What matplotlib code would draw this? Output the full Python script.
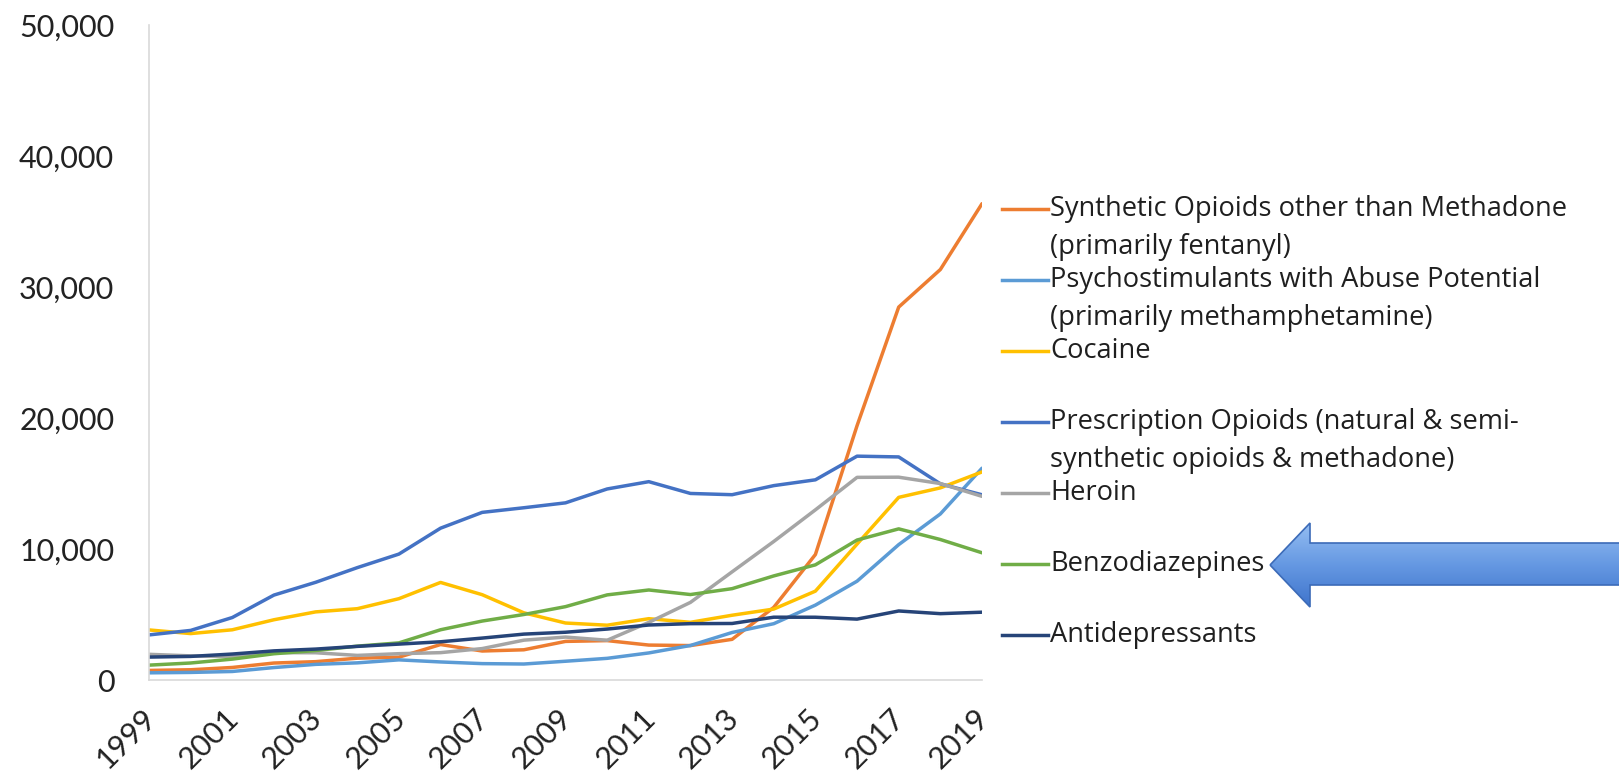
import matplotlib.pyplot as plt
import numpy as np
from matplotlib.lines import Line2D
from matplotlib.patches import Polygon
from matplotlib.ticker import FuncFormatter
from matplotlib.transforms import ScaledTranslation
from matplotlib.colors import LinearSegmentedColormap

plt.rcParams['font.family'] = ['Lato', 'DejaVu Sans']

years = list(range(1999, 2020))

synthetic = [730, 782, 957, 1295, 1400, 1664, 1742, 2707, 2213, 2306, 2946,
             3007, 2666, 2628, 3105, 5544, 9580, 19413, 28466, 31335, 36359]
psycho = [547, 578, 650, 950, 1193, 1309, 1537, 1378, 1250, 1220, 1432,
          1654, 2066, 2635, 3627, 4298, 5716, 7542, 10333, 12676, 16167]
cocaine = [3822, 3544, 3833, 4599, 5199, 5443, 6208, 7448, 6512, 5129, 4350,
           4183, 4681, 4404, 4944, 5415, 6784, 10375, 13942, 14666, 15883]
prescription = [3442, 3785, 4770, 6483, 7456, 8577, 9612, 11589, 12796, 13149, 13523,
                14583, 15140, 14240, 14145, 14838, 15281, 17087, 17029, 14975, 14139]
heroin = [1960, 1842, 1779, 2089, 2080, 1878, 2009, 2088, 2399, 3041, 3278,
          3036, 4397, 5925, 8257, 10574, 12989, 15469, 15482, 14996, 14019]
benzo = [1135, 1298, 1594, 2004, 2248, 2585, 2834, 3835, 4500, 5000, 5600,
         6497, 6872, 6524, 6973, 7945, 8791, 10684, 11537, 10724, 9711]
antidep = [1749, 1801, 1982, 2224, 2360, 2566, 2740, 2918, 3200, 3503, 3646,
           3889, 4198, 4301, 4315, 4794, 4791, 4647, 5269, 5064, 5176]

series = [
    (["Synthetic Opioids other than Methadone", "(primarily fentanyl)"], synthetic, "#ED7D31"),
    (["Psychostimulants with Abuse Potential", "(primarily methamphetamine)"], psycho, "#5B9BD5"),
    (["Cocaine"], cocaine, "#FFC000"),
    (["Prescription Opioids (natural & semi-", "synthetic opioids & methadone)"], prescription, "#4472C4"),
    (["Heroin"], heroin, "#A5A5A5"),
    (["Benzodiazepines"], benzo, "#70AD47"),
    (["Antidepressants"], antidep, "#264478"),
]

W, H = 1619, 779
fig = plt.figure(figsize=(W / 100, H / 100), dpi=100)
ax = fig.add_axes([149 / W, 1 - 680 / H, (982 - 149) / W, (680 - 25) / H])

for labels, vals, col in series:
    ax.plot(years, vals, color=col, lw=2.5, solid_capstyle='round')

ax.set_xlim(1999, 2019)
ax.set_ylim(0, 50000)
ax.set_yticks(range(0, 50001, 10000))
ax.yaxis.set_major_formatter(FuncFormatter(lambda v, p: f"{int(v):,}"))
ax.set_xticks(years[::2])
ax.set_xticklabels([str(y) for y in years[::2]], rotation=45, ha='right', va='top',
                   rotation_mode='anchor')
ax.tick_params(axis='both', length=0, colors='#222222', labelsize=22)
ax.tick_params(axis='y', pad=25)
ax.tick_params(axis='x', pad=17)
shift = ScaledTranslation(-0.08, 0, fig.dpi_scale_trans)
for lab in ax.get_xticklabels():
    lab.set_transform(lab.get_transform() + shift)
for s in ['top', 'right']:
    ax.spines[s].set_visible(False)
for s in ['left', 'bottom']:
    ax.spines[s].set_color('#d9d9d9')
    ax.spines[s].set_linewidth(1.2)

# legend drawn by hand so the handle sits on the first text line
ov = fig.add_axes([0, 0, 1, 1], zorder=5)
ov.patch.set_alpha(0)
ov.axis('off')

y0, step, lsp = 209, 71, 38
for i, (labels, vals, col) in enumerate(series):
    y = y0 + i * step
    ov.add_line(Line2D([1002, 1048], [y, y], color=col, lw=2.5))
    for j, t in enumerate(labels):
        ov.text(1050, y + j * lsp, t, fontsize=19.6, color='#1f1f1f', va='center', ha='left',
                family=['Open Sans', 'DejaVu Sans'])

# big arrow pointing at Benzodiazepines
pts = [(1270, 565), (1310, 523), (1310, 543), (W + 5, 543), (W + 5, 585),
       (1310, 585), (1310, 607)]
arrow = Polygon(pts, closed=True, facecolor='none', edgecolor='#3c6bb8', lw=1.2, zorder=3)
ov.add_patch(arrow)
grad = np.linspace(0, 1, 100).reshape(-1, 1)
cm = LinearSegmentedColormap.from_list('ar', ['#94bdf2', '#6598e2', '#3f74cc'])
img = ov.imshow(grad, extent=[1265, W + 5, 607, 523], cmap=cm, aspect='auto', zorder=2)
img.set_clip_path(arrow)
ov.set_xlim(0, W)
ov.set_ylim(H, 0)

fig.savefig("out.png", dpi=100, facecolor='white')
